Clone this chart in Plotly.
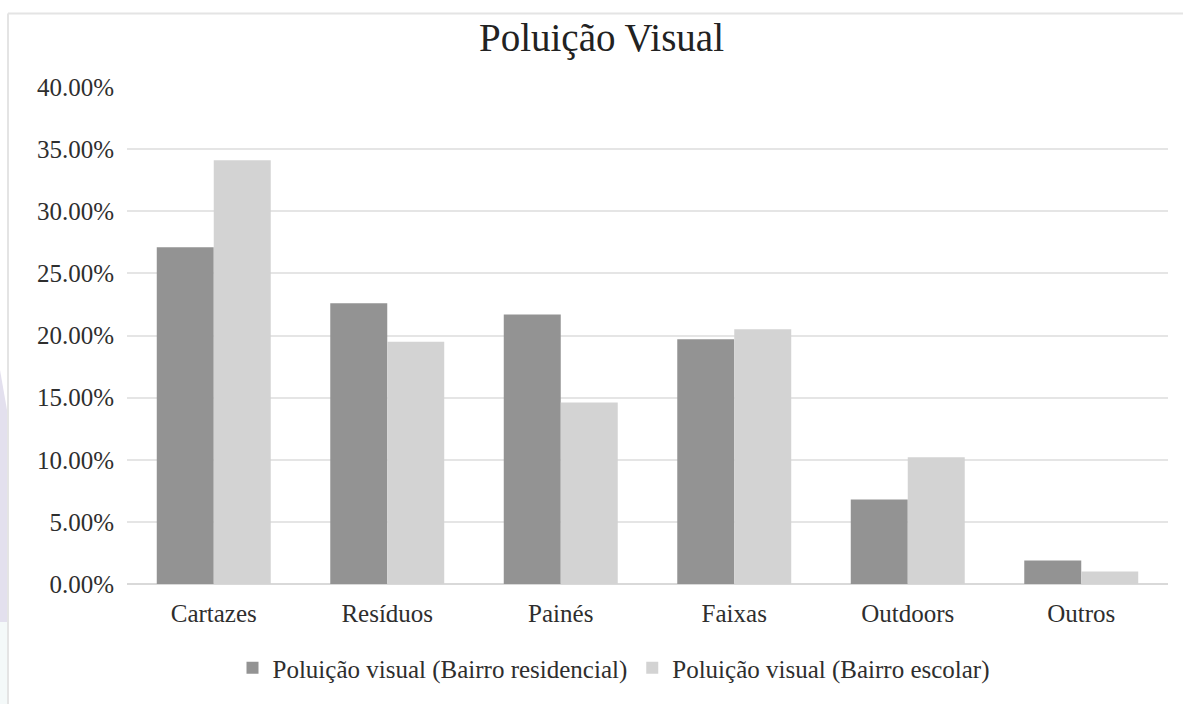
import plotly.graph_objects as go

categorias = ["Cartazes", "Resíduos", "Painés", "Faixas", "Outdoors", "Outros"]
bairro_residencial = [27.1, 22.6, 21.7, 19.7, 6.8, 1.9]
bairro_escolar = [34.1, 19.5, 14.6, 20.5, 10.2, 1.0]
nome_residencial = "Poluição visual (Bairro residencial)"
nome_escolar = "Poluição visual (Bairro escolar)"
y_ticks = [0, 5, 10, 15, 20, 25, 30, 35, 40]
y_tick_labels = [f"{v:.2f}%" for v in y_ticks]

W, H = 1183, 704
L, R, T, B = 127, 15, 87, 120
FONT = "Liberation Serif"
TXT = "#2e2e2e"

fig = go.Figure()
fig.add_trace(go.Bar(
    x=categorias, y=bairro_residencial, name=nome_residencial,
    marker=dict(color="#939393", line=dict(width=0)),
))
fig.add_trace(go.Bar(
    x=categorias, y=bairro_escolar, name=nome_escolar,
    marker=dict(color="#d3d3d3", line=dict(width=0)),
))

pw = W - L - R
ph = H - T - B


def px_x(p):
    return (p - L) / pw


def px_y(p):
    return (H - B - p) / ph


shapes = [
    # outer chart frame (top and left edges)
    dict(type="line", xref="paper", yref="paper",
         x0=px_x(8), x1=px_x(W + 5), y0=px_y(13.5), y1=px_y(13.5),
         line=dict(color="#e4e4e4", width=2)),
    dict(type="line", xref="paper", yref="paper",
         x0=px_x(8), x1=px_x(8), y0=px_y(13.5), y1=px_y(H + 5),
         line=dict(color="#e4e4e4", width=2)),
    # faint page decoration at the far left
    dict(type="path", xref="paper", yref="paper",
         path=(f"M {px_x(0)},{px_y(370)} L {px_x(7)},{px_y(410)} "
               f"L {px_x(7)},{px_y(622)} L {px_x(0)},{px_y(622)} Z"),
         fillcolor="#e3e0ee", line=dict(width=0), layer="below"),
    dict(type="rect", xref="paper", yref="paper",
         x0=px_x(0), x1=px_x(7), y0=px_y(622), y1=px_y(H),
         fillcolor="#f4f9f9", line=dict(width=0), layer="below"),
]

fig.update_layout(
    width=W, height=H,
    margin=dict(l=L, r=R, t=T, b=B),
    paper_bgcolor="white", plot_bgcolor="white",
    font=dict(family=FONT, size=25, color=TXT),
    title=dict(text="Poluição Visual", x=(601.5) / W, xanchor="center",
               y=1 - 37 / H, yanchor="middle", yref="container",
               font=dict(family=FONT, size=39, color="#222222")),
    barmode="group", bargap=0.343, bargroupgap=0,
    showlegend=True,
    legend=dict(orientation="h", x=px_x(614), xanchor="center",
                y=px_y(668), yanchor="middle",
                font=dict(family=FONT, size=25, color=TXT),
                itemwidth=30, tracegroupgap=0),
    shapes=shapes,
    xaxis=dict(showgrid=False, showline=False, ticks="",
               tickfont=dict(family=FONT, size=25, color=TXT),
               ticklabelstandoff=12),
    yaxis=dict(range=[0, 40], tickvals=y_ticks, ticktext=y_tick_labels,
               showgrid=True, gridcolor="#e5e5e5", gridwidth=2,
               zeroline=True, zerolinecolor="#d9d9d9", zerolinewidth=2,
               showline=False, ticks="",
               tickfont=dict(family=FONT, size=25, color=TXT),
               ticklabelstandoff=12),
)

fig.write_html("out.html")
